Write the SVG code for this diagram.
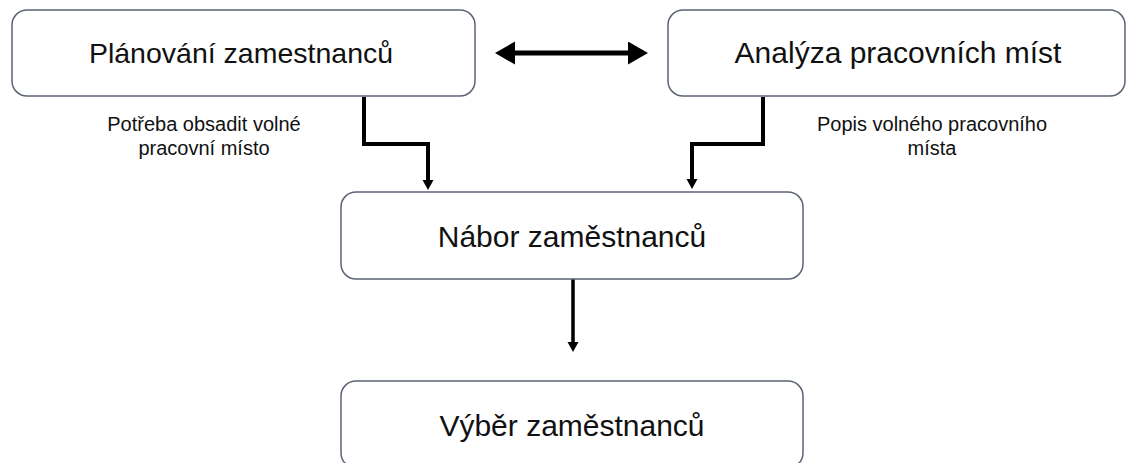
<svg xmlns="http://www.w3.org/2000/svg" width="1128" height="463" viewBox="0 0 1128 463">
<style>
.box{fill:#ffffff;stroke:#5b6374;stroke-width:1.5}
.t{font-family:"Liberation Sans",Arial,sans-serif;fill:#111;text-anchor:middle}
.big{font-size:28.5px}
.big2{font-size:30px}
.lbl{font-size:20px}
.c{fill:none;stroke:#000;stroke-linejoin:miter}
</style>
<defs>
<marker id="ah" markerUnits="userSpaceOnUse" markerWidth="12" markerHeight="12" refX="1" refY="5.5" orient="auto"><path d="M0,0 L10,5.5 L0,11 z" fill="#000"/></marker>
<marker id="ahb" markerUnits="userSpaceOnUse" markerWidth="22" markerHeight="24" refX="1" refY="11.5" orient="auto-start-reverse"><path d="M0,0 L20,11.5 L0,23 z" fill="#000"/></marker>
</defs>
<rect width="1128" height="463" fill="#ffffff"/>
<g id="connectors">
<path class="c" d="M514 53 H629" stroke-width="5" marker-start="url(#ahb)" marker-end="url(#ahb)"/>
<path class="c" d="M364 97 V144 H428 V181" stroke-width="4" marker-end="url(#ah)"/>
<path class="c" d="M763 97 V144 H692 V180" stroke-width="4" marker-end="url(#ah)"/>
<path class="c" d="M573 279 V343" stroke-width="3.5" marker-end="url(#ah)"/>
</g>
<g id="planovani">
<rect class="box" x="12" y="10" width="463" height="86" rx="15"/>
<text class="t big" x="241" y="63">Plánování zamestnanců</text>
</g>
<g id="analyza">
<rect class="box" x="668" y="10" width="457" height="86" rx="15"/>
<text class="t big2" x="898" y="63">Analýza pracovních míst</text>
</g>
<g id="label-potreba">
<text class="t lbl" x="204" y="131">Potřeba obsadit volné</text>
<text class="t lbl" x="204" y="155">pracovní místo</text>
</g>
<g id="label-popis">
<text class="t lbl" x="932" y="131">Popis volného pracovního</text>
<text class="t lbl" x="932" y="155">místa</text>
</g>
<g id="nabor">
<rect class="box" x="341" y="192" width="462" height="87" rx="15"/>
<text class="t big2" x="572" y="247">Nábor zaměstnanců</text>
</g>
<g id="vyber">
<rect class="box" x="341" y="381" width="462" height="87" rx="15"/>
<text class="t big2" x="572" y="436">Výběr zaměstnanců</text>
</g>
</svg>
